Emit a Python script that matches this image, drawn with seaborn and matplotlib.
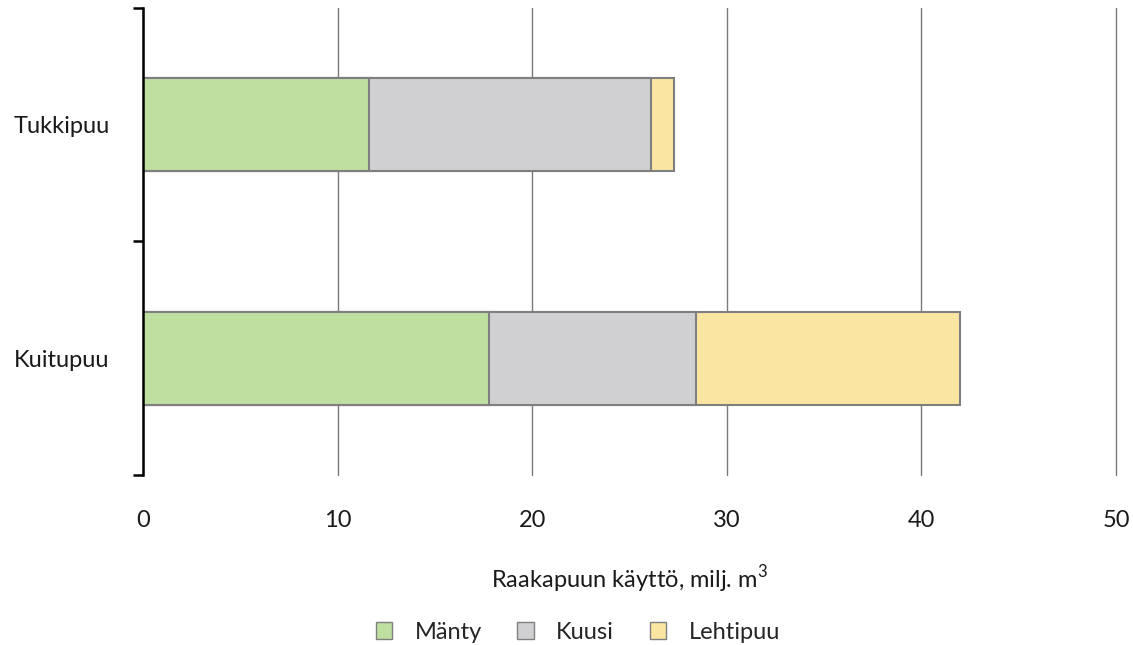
import numpy as np
import pandas as pd
import matplotlib
matplotlib.use('Agg')
import matplotlib.pyplot as plt
import matplotlib.patches as mpatches
import seaborn as sns

# Chart data (milj. m3)
categories = ['Tukkipuu', 'Kuitupuu']
species = ['Mänty', 'Kuusi', 'Lehtipuu']
manty = [11.6, 17.8]
kuusi = [14.5, 10.6]
lehtipuu = [1.2, 13.6]
x_ticks = [0, 10, 20, 30, 40, 50]

colors = ['#BEDF9F', '#D0D0D2', '#FBE5A3']
edge = '#7F7F7F'

sns.set_theme(style='white')
plt.rcParams['font.family'] = ['Lato', 'DejaVu Sans']
plt.rcParams['mathtext.fontset'] = 'custom'
plt.rcParams['mathtext.rm'] = 'Lato'

df = pd.DataFrame({'kategoria': categories, 'Mänty': manty, 'Kuusi': kuusi, 'Lehtipuu': lehtipuu})
cum = np.cumsum(df[species].values, axis=1)

fig = plt.figure(figsize=(11.33, 6.45), dpi=100)
ax = fig.add_axes([0.1262, 0.2636, 0.8588, 0.724])

# stacked bars: draw cumulative totals from largest to smallest
for i in range(len(species) - 1, -1, -1):
    d = pd.DataFrame({'kategoria': categories, 'arvo': cum[:, i]})
    sns.barplot(data=d, x='arvo', y='kategoria', order=categories, color=colors[i],
                width=0.4, edgecolor=edge, linewidth=1.5, saturation=1, ax=ax, orient='h')

ax.set_xlim(0, 50)
ax.set_ylim(1.5, -0.5)
ax.set_xticks(x_ticks)
ax.set_xticklabels([str(t) for t in x_ticks])
ax.set_xlabel(r'Raakapuun käyttö, milj. m$^3$', fontsize=17, color='#1a1a1a', va='center')
ax.xaxis.set_label_coords(0.5, -0.222)
ax.set_ylabel('')
ax.xaxis.grid(True, color='#7a7a7a', linewidth=1)
for gl in ax.get_xgridlines():
    gl.set_clip_on(False)
ax.set_axisbelow(True)
for s in ['top', 'right', 'bottom']:
    ax.spines[s].set_visible(False)
ax.spines['left'].set_color('black')
ax.spines['left'].set_linewidth(1.8)

ax.tick_params(axis='x', length=0, labelsize=17, labelcolor='#1a1a1a', pad=25)
ax.tick_params(axis='y', which='major', left=False, length=0, labelsize=17,
               labelcolor='#1a1a1a', pad=24)
ax.set_yticks([-0.5, 0.5, 1.5], minor=True)
ax.tick_params(axis='y', which='minor', left=True, length=7, width=1.8, color='black')

handles = [mpatches.Patch(facecolor=c, edgecolor=edge, linewidth=1, label=s)
           for c, s in zip(colors, species)]
fig.legend(handles=handles, loc='center', bbox_to_anchor=(0.51, 0.02), ncol=3,
           frameon=False, fontsize=17, handlelength=0.7, handleheight=0.7,
           handletextpad=0.95, columnspacing=1.5)

fig.savefig('out.png', dpi=100)
